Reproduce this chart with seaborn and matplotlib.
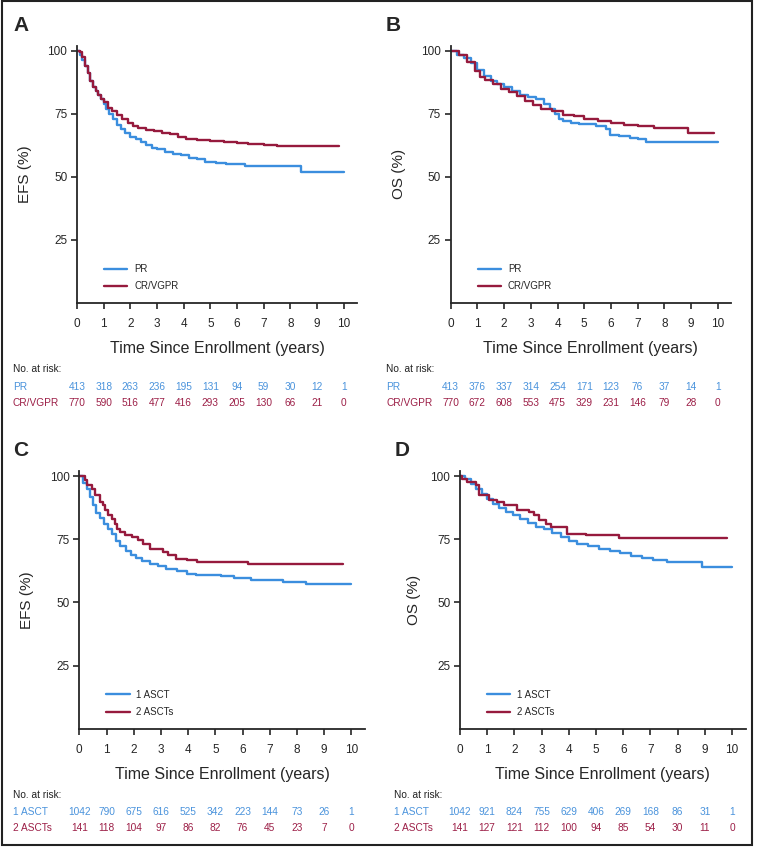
import numpy as np
import pandas as pd
import matplotlib
matplotlib.use("Agg")
import matplotlib.pyplot as plt
import matplotlib.transforms as mtransforms
import seaborn as sns

# ---- data ----
risk_times = [0, 1, 2, 3, 4, 5, 6, 7, 8, 9, 10]

# A: EFS by response
a_pr_t = [0, 0.1, 0.2, 0.3, 0.4, 0.5, 0.6, 0.7, 0.8, 0.9, 1.0, 1.1, 1.2, 1.35, 1.5, 1.65, 1.8,
          2.0, 2.2, 2.4, 2.6, 2.8, 3.0, 3.3, 3.6, 3.9, 4.2, 4.5, 4.8, 5.2, 5.6, 6.0, 6.3, 7.0, 8.4, 10.0]
a_pr_s = [100, 98.5, 96.5, 94, 91, 88, 85.5, 84, 82.5, 81, 79, 77, 75, 73, 70.5, 69, 67.5,
          66, 65, 64, 62.5, 61.5, 61, 60, 59, 58.5, 57.5, 57, 56, 55.5, 55.3, 55.2, 54.5, 54.5, 52.1, 52.1]
a_cr_t = [0, 0.1, 0.2, 0.3, 0.4, 0.5, 0.6, 0.7, 0.8, 0.9, 1.0, 1.15, 1.3, 1.5, 1.7, 1.9, 2.1,
          2.3, 2.6, 2.9, 3.2, 3.5, 3.8, 4.1, 4.5, 5.0, 5.5, 6.0, 6.4, 7.0, 7.5, 9.83]
a_cr_s = [100, 99.5, 97.5, 94, 91, 88, 85.5, 84, 82.5, 81, 79.5, 77.5, 76, 74.5, 73, 71.5, 70.3,
          69.5, 68.5, 68, 67.5, 67, 66, 65, 64.5, 64.2, 64, 63.5, 63, 62.8, 62.3, 62.3]
a_risk_pr = [413, 318, 263, 236, 195, 131, 94, 59, 30, 12, 1]
a_risk_cr = [770, 590, 516, 477, 416, 293, 205, 130, 66, 21, 0]

# B: OS by response
b_pr_t = [0, 0.25, 0.5, 0.75, 1.0, 1.25, 1.5, 1.75, 2.0, 2.3, 2.6, 2.9, 3.2, 3.5, 3.7, 3.9, 4.05,
          4.2, 4.5, 4.8, 5.1, 5.45, 5.8, 5.95, 6.3, 6.7, 7.0, 7.3, 10.0]
b_pr_s = [100, 98.5, 97, 95, 92.5, 90, 88, 87, 85.8, 84, 82.5, 81.5, 80.8, 79, 77, 75, 73,
          72, 71.5, 71, 70.8, 70.3, 69, 66.7, 66.2, 65.5, 65, 64, 64]
b_cr_t = [0, 0.3, 0.6, 0.9, 1.1, 1.3, 1.6, 1.9, 2.2, 2.5, 2.8, 3.1, 3.4, 3.8, 4.2, 4.6, 5.0,
          5.5, 6.0, 6.5, 7.0, 7.6, 8.9, 9.85]
b_cr_s = [100, 98.5, 95.5, 92, 89.5, 88.5, 87, 84.8, 83.5, 82, 80, 78.5, 77, 76, 74.5, 74, 73,
          72, 71.5, 70.5, 70.2, 69.5, 67.3, 67.3]
b_risk_pr = [413, 376, 337, 314, 254, 171, 123, 76, 37, 14, 1]
b_risk_cr = [770, 672, 608, 553, 475, 329, 231, 146, 79, 28, 0]

# C: EFS by number of ASCT
c_one_t = [0, 0.15, 0.3, 0.4, 0.5, 0.6, 0.75, 0.9, 1.05, 1.2, 1.35, 1.5, 1.7, 1.9, 2.1, 2.3,
           2.6, 2.9, 3.2, 3.6, 3.95, 4.3, 4.7, 5.2, 5.7, 6.3, 6.9, 7.5, 8.35, 10.0]
c_one_s = [100, 97.5, 95, 92, 88.5, 85.5, 83.5, 81.2, 79, 77, 74.5, 72.5, 70.5, 69, 67.5, 66.3,
           65.1, 64.3, 63.4, 62.5, 61.4, 61, 60.7, 60.3, 59.8, 59, 58.8, 58.3, 57.4, 57.4]
c_two_t = [0, 0.21, 0.29, 0.45, 0.57, 0.76, 0.88, 0.94, 1.06, 1.19, 1.31, 1.40, 1.49, 1.68,
           1.92, 2.17, 2.35, 2.59, 3.08, 3.27, 3.57, 3.94, 4.31, 6.21, 9.69]
c_two_s = [100, 98.4, 96.4, 95.1, 92.5, 89.8, 88.5, 86.5, 84.5, 83.2, 81.2, 79.2, 77.9, 76.6,
           75.9, 74.6, 73.3, 71.3, 70, 68.7, 67.3, 66.7, 66, 65.1, 65.1]
c_risk_one = [1042, 790, 675, 616, 525, 342, 223, 144, 73, 26, 1]
c_risk_two = [141, 118, 104, 97, 86, 82, 76, 45, 23, 7, 0]

# D: OS by number of ASCT
d_one_t = [0, 0.2, 0.4, 0.6, 0.8, 1.0, 1.2, 1.45, 1.7, 1.95, 2.2, 2.5, 2.8, 3.1, 3.4, 3.7, 4.0,
           4.3, 4.7, 5.1, 5.5, 5.9, 6.3, 6.7, 7.1, 7.6, 8.9, 10.0]
d_one_s = [100, 98.8, 97, 95, 93, 91, 89.2, 87.5, 85.8, 84.5, 83, 81.5, 80, 79, 77.5, 76, 74.5,
           73, 72.3, 71.3, 70.5, 69.7, 68.5, 67.5, 66.8, 66, 64, 64]
d_two_t = [0, 0.09, 0.27, 0.58, 0.70, 1.07, 1.37, 1.62, 2.11, 2.54, 2.72, 2.9, 3.15, 3.33,
           3.95, 4.62, 5.85, 9.83]
d_two_s = [100, 99, 97.8, 96.4, 92.5, 90.5, 89.8, 88.5, 86.5, 85.8, 84.5, 82.8, 81.2, 79.9,
           77.2, 76.6, 75.7, 75.7]
d_risk_one = [1042, 921, 824, 755, 629, 406, 269, 168, 86, 31, 1]
d_risk_two = [141, 127, 121, 112, 100, 94, 85, 54, 30, 11, 0]

BLUE = "#3b8ede"
RED = "#961a3d"
BLUE_TXT = "#4a93dc"
RED_TXT = "#9c1f47"

sns.set_style("ticks")
plt.rcParams["font.family"] = ["Liberation Sans", "DejaVu Sans"]
plt.rcParams["axes.linewidth"] = 1.3

fig = plt.figure(figsize=(7.58, 8.47), dpi=100)
W, H = 758.0, 847.0


def panel(rect_px, t1, s1, t2, s2, names, ylabel, letter, letter_xy, risk1, risk2,
          ylab_off, tbl_x, tbl_y):
    left, top, width = rect_px
    ax = fig.add_axes([left / W, 1 - (top + 257.3) / H, width / W, 257.3 / H])
    df = pd.concat([
        pd.DataFrame({"t": t1, "s": s1, "group": names[0]}),
        pd.DataFrame({"t": t2, "s": s2, "group": names[1]}),
    ])
    sns.lineplot(data=df, x="t", y="s", hue="group", palette=[BLUE, RED],
                 drawstyle="steps-post", estimator=None, sort=False,
                 linewidth=1.7, ax=ax)
    ax.set_xlim(0, 10.5)
    ax.set_ylim(0, 102)
    ax.set_xticks(risk_times)
    ax.set_yticks([25, 50, 75, 100])
    ax.tick_params(axis="x", length=4, width=1.2, pad=7, labelsize=8.5)
    ax.tick_params(axis="y", length=4, width=1.2, pad=3, labelsize=8.5)
    sns.despine(ax=ax)
    ax.set_xlabel("Time Since Enrollment (years)", fontsize=11.5)
    ax.xaxis.label.set_va("center")
    ax.xaxis.set_label_coords(0.5, -46 / 257.3)
    ax.set_ylabel(ylabel, fontsize=11)
    ax.yaxis.label.set_va("center")
    ax.yaxis.set_label_coords(-ylab_off / width, 0.5)
    ax.legend(loc="lower left", bbox_to_anchor=(27 / width, 0.045), frameon=False,
              fontsize=7, handlelength=2.4, handletextpad=0.7, labelspacing=0.75,
              borderpad=0, borderaxespad=0)

    fig.text(letter_xy[0] / W, 1 - letter_xy[1] / H, letter, fontsize=15,
             fontweight="bold", ha="left", va="center")

    # number at risk table
    tr = mtransforms.blended_transform_factory(ax.transData, fig.transFigure)
    fig.text(tbl_x / W, 1 - tbl_y[0] / H, "No. at risk:", fontsize=7.3,
             ha="left", va="center", color="#222222")
    fig.text(tbl_x / W, 1 - tbl_y[1] / H, names[0], fontsize=7.3,
             ha="left", va="center", color=BLUE_TXT)
    fig.text(tbl_x / W, 1 - tbl_y[2] / H, names[1], fontsize=7.3,
             ha="left", va="center", color=RED_TXT)
    for x, n1, n2 in zip(risk_times, risk1, risk2):
        ax.text(x, 1 - tbl_y[1] / H, str(n1), transform=tr, fontsize=7.3,
                ha="center", va="center", color=BLUE_TXT)
        ax.text(x, 1 - tbl_y[2] / H, str(n2), transform=tr, fontsize=7.3,
                ha="center", va="center", color=RED_TXT)
    return ax


panel((77, 45.7, 280), a_pr_t, a_pr_s, a_cr_t, a_cr_s, ["PR", "CR/VGPR"], "EFS (%)",
      "A", (13, 25.5), a_risk_pr, a_risk_cr, 52, 12.7, (369.5, 386.7, 403.3))
panel((450.7, 45.7, 280.4), b_pr_t, b_pr_s, b_cr_t, b_cr_s, ["PR", "CR/VGPR"], "OS (%)",
      "B", (386, 25.5), b_risk_pr, b_risk_cr, 52, 386.3, (369.5, 386.7, 403.3))
panel((79.3, 471.3, 285.7), c_one_t, c_one_s, c_two_t, c_two_s, ["1 ASCT", "2 ASCTs"], "EFS (%)",
      "C", (13, 450), c_risk_one, c_risk_two, 52, 12.7, (795, 811.7, 827.7))
panel((460, 471.3, 285.6), d_one_t, d_one_s, d_two_t, d_two_s, ["1 ASCT", "2 ASCTs"], "OS (%)",
      "D", (395, 450), d_risk_one, d_risk_two, 46, 394, (795, 811.7, 827.7))

# outer frame
fig.add_artist(plt.Rectangle((1.5 / W, 2 / H), 750.5 / W, 843.5 / H, transform=fig.transFigure,
                             fill=False, edgecolor="#222222", linewidth=1.5))

fig.savefig("out.png", dpi=100)
